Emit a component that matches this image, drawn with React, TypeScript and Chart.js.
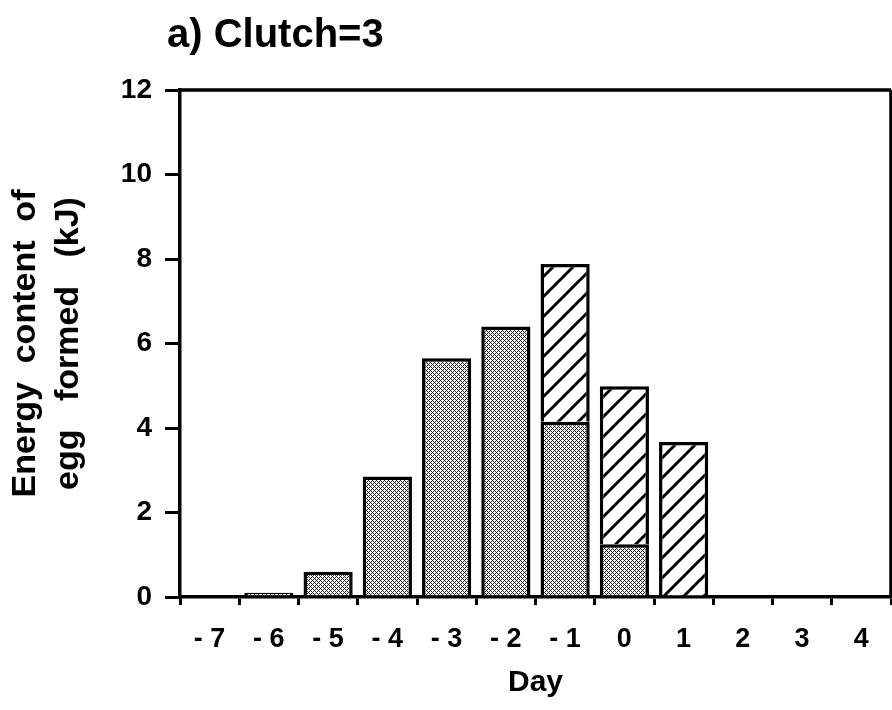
import React, { useEffect, useRef } from 'react';
import { Chart, registerables } from 'chart.js';

Chart.register(...registerables);

const chartTitle = 'a) Clutch=3';
const xTitle = 'Day';
const yTitleLines = ['Energy  content  of', 'egg   formed   (kJ)'];
const days = ['- 7', '- 6', '- 5', '- 4', '- 3', '- 2', '- 1', '0', '1', '2', '3', '4'];
const stippled = [0, 0.1, 0.6, 2.85, 5.65, 6.4, 4.15, 1.25, 0, 0, 0, 0];
const hatched = [0, 0, 0, 0, 0, 0, 3.73, 3.74, 3.67, 0, 0, 0];
const yMin = 0;
const yMax = 12;
const yStep = 2;

const FONT = '"Liberation Sans", Arial, Helvetica, sans-serif';

function makeStipple(ctx: CanvasRenderingContext2D) {
  const c = document.createElement('canvas');
  c.width = 4;
  c.height = 4;
  const g = c.getContext('2d')!;
  g.fillStyle = '#ffffff';
  g.fillRect(0, 0, 4, 4);
  g.fillStyle = '#222222';
  for (let y = 0; y < 4; y++) {
    for (let x = 0; x < 4; x++) {
      if ((x + y) % 2 === 0) g.fillRect(x, y, 1, 1);
    }
  }
  g.fillStyle = '#ffffff';
  g.fillRect(2, 0, 1, 1);
  g.fillRect(0, 2, 1, 1);
  return ctx.createPattern(c, 'repeat');
}

function makeHatch(ctx: CanvasRenderingContext2D) {
  const s = 20;
  const c = document.createElement('canvas');
  c.width = s;
  c.height = s;
  const g = c.getContext('2d')!;
  g.fillStyle = '#ffffff';
  g.fillRect(0, 0, s, s);
  g.strokeStyle = '#000000';
  g.lineWidth = 3;
  g.beginPath();
  g.moveTo(-3, s + 3);
  g.lineTo(s + 3, -3);
  g.moveTo(-3, 3);
  g.lineTo(3, -3);
  g.moveTo(s - 3, s + 3);
  g.lineTo(s + 3, s - 3);
  g.stroke();
  return ctx.createPattern(c, 'repeat');
}

const framePlugin = {
  id: 'frameAndTitle',
  afterDraw(chart: any) {
    const { ctx, chartArea } = chart;
    const { left, right, top, bottom } = chartArea;
    ctx.save();
    ctx.strokeStyle = '#000';
    ctx.lineWidth = 3.5;
    ctx.beginPath();
    ctx.moveTo(left, top);
    ctx.lineTo(right, top);
    ctx.moveTo(right, top);
    ctx.lineTo(right, bottom);
    ctx.stroke();
    ctx.fillStyle = '#000';
    ctx.font = `bold 40px ${FONT}`;
    ctx.textBaseline = 'alphabetic';
    ctx.textAlign = 'left';
    ctx.fillText(chartTitle, 167, 47);
    ctx.restore();
  },
};

export default function App() {
  const ref = useRef<HTMLCanvasElement | null>(null);

  useEffect(() => {
    const canvas = ref.current!;
    const ctx = canvas.getContext('2d')!;
    const stip = makeStipple(ctx);
    const hatch = makeHatch(ctx);

    const chart = new Chart(canvas, {
      type: 'bar',
      data: {
        labels: days,
        datasets: [
          {
            label: 'stippled',
            data: stippled,
            backgroundColor: stip as any,
            borderColor: '#000',
            borderWidth: 3.5,
            borderSkipped: 'start',
            barPercentage: 0.83,
            categoryPercentage: 1,
          },
          {
            label: 'hatched',
            data: hatched,
            backgroundColor: hatch as any,
            borderColor: '#000',
            borderWidth: 3.5,
            borderSkipped: 'start',
            barPercentage: 0.83,
            categoryPercentage: 1,
          },
        ],
      },
      options: {
        responsive: false,
        animation: false,
        events: [],
        devicePixelRatio: 1,
        layout: { padding: { top: 90, right: 1, left: 0, bottom: 0 } },
        plugins: {
          legend: { display: false },
          tooltip: { enabled: false },
          title: { display: false },
        },
        scales: {
          x: {
            stacked: true,
            offset: true,
            grid: {
              display: true,
              offset: true,
              drawOnChartArea: false,
              drawTicks: true,
              tickLength: 8,
              lineWidth: 3,
              color: '#000',
            },
            border: { display: true, width: 3.5, color: '#000' },
            ticks: {
              color: '#000',
              padding: 18,
              maxRotation: 0,
              autoSkip: false,
              font: { family: FONT, size: 27, weight: 'bold' },
            },
            title: {
              display: true,
              text: xTitle,
              color: '#000',
              font: { family: FONT, size: 30, weight: 'bold' },
              padding: { top: 0, bottom: 9 },
            },
            afterFit: (scale: any) => {
              scale.height = 113;
            },
          },
          y: {
            stacked: true,
            min: yMin,
            max: yMax,
            grid: {
              display: true,
              drawOnChartArea: false,
              drawTicks: true,
              tickLength: 15,
              lineWidth: 3,
              color: '#000',
            },
            border: { display: true, width: 3.5, color: '#000' },
            ticks: {
              stepSize: yStep,
              color: '#000',
              padding: 13,
              font: { family: FONT, size: 28, weight: 'bold' },
            },
            title: {
              display: true,
              text: yTitleLines,
              color: '#000',
              font: { family: FONT, size: 34, weight: 'bold', lineHeight: 1.27 },
              padding: { top: 4, bottom: 0 },
            },
            afterFit: (scale: any) => {
              scale.width = 180;
            },
          },
        },
      },
      plugins: [framePlugin],
    });

    return () => chart.destroy();
  }, []);

  return (
    <div style={{ position: 'fixed', left: 0, top: 0, width: 892, height: 710, background: '#fff' }}>
      <canvas ref={ref} width={892} height={710} style={{ display: 'block', width: 892, height: 710 }} />
    </div>
  );
}
